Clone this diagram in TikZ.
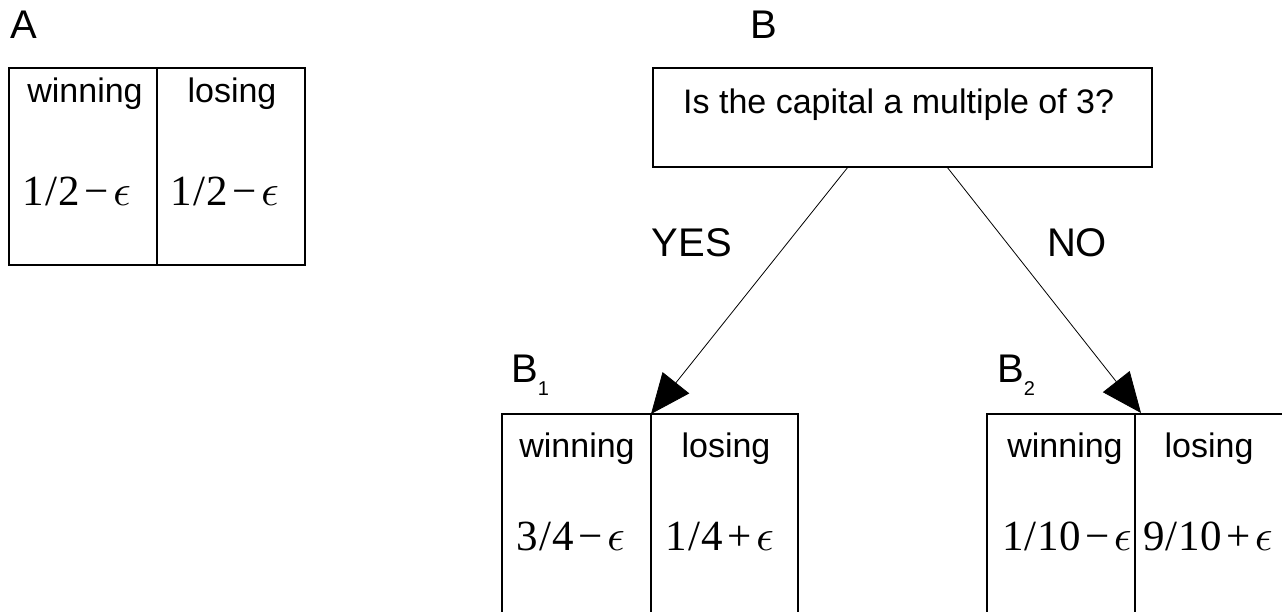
\documentclass[tikz,border=0pt]{standalone}
\usepackage[no-math]{fontspec}
\usepackage{graphicx}
\setmainfont{Liberation Sans}
\newfontfamily\serifnum{Liberation Serif}
\usetikzlibrary{arrows.meta}
\tikzset{
  lbl/.style={anchor=base, inner sep=0pt, font=\fontsize{34}{40}\selectfont},
  big/.style={anchor=base, inner sep=0pt, font=\fontsize{40}{46}\selectfont},
  val/.style={anchor=base, inner sep=0pt, font=\fontsize{43}{50}\serifnum},
  boxline/.style={draw=black, line width=1.1pt},
  conn/.style={draw=black, line width=0.8pt, -{Triangle[length=40pt,width=34pt]}}
}
\newcommand{\frk}[3]{#1\kern1pt/\kern1pt#2\kern4.5pt#3\kern4.5pt\scalebox{4.4}{\fontsize{10}{12}\selectfont$\epsilon$}}
\begin{document}
\begin{tikzpicture}[x=1pt,y=-1pt]
\useasboundingbox (0,0) rectangle (1282,611);
\clip (0,0) rectangle (1282,611);
% A
\node[big] (labA) at (24,38) {A};
\draw[boxline] (9,68) rectangle (305,265);
\draw[boxline] (157,68) -- (157,265);
\node[lbl] (aw) at (85,102) {winning};
\node[lbl] (al) at (232,102) {losing};
\node[val] (av1) at (77,205) {\frk{1}{2}{−}};
\node[val] (av2) at (225,205) {\frk{1}{2}{−}};
% B
\node[big] (labB) at (764,38) {B};
\node[draw=black, line width=1.1pt, minimum width=499pt, minimum height=99pt, inner sep=0pt] (q) at (902.5,117.5) {};
\node[lbl, anchor=base west] (qt) at (683,113) {Is the capital a multiple of 3?};
\coordinate (qL) at (848,167);
\coordinate (qR) at (947,167);
% B1
\draw[boxline] (502,640) -- (502,414) -- (798,414) -- (798,640);
\draw[boxline] (651,414) -- (651,640);
\coordinate (b1top) at (651,414);
\node[big, anchor=base west] (labB1) at (511,382) {B\raisebox{-13pt}{\fontsize{20}{20}\selectfont 1}};
\node[lbl] (b1w) at (577,457) {winning};
\node[lbl] (b1l) at (726,457) {losing};
\node[val] (b1v1) at (571,550) {\frk{3}{4}{−}};
\node[val] (b1v2) at (720,550) {\frk{1}{4}{+}};
% B2
\draw[boxline] (987,640) -- (987,414) -- (1290,414);
\draw[boxline] (1135,414) -- (1135,640);
\coordinate (b2top) at (1141,413);
\node[big, anchor=base west] (labB2) at (997,382) {B\raisebox{-13pt}{\fontsize{20}{20}\selectfont 2}};
\node[lbl] (b2w) at (1065,457) {winning};
\node[lbl] (b2l) at (1209,457) {losing};
\node[val] (b2v1) at (1067,550) {\frk{1}{10}{−}};
\node[val] (b2v2) at (1208,550) {\frk{9}{10}{+}};
% connectors
\draw[conn] (qL) -- (b1top);
\draw[conn] (qR) -- (b2top);
\node[big] (yes) at (692,256) {YES};
\node[big] (no) at (1077,256) {NO};
\end{tikzpicture}
\end{document}
